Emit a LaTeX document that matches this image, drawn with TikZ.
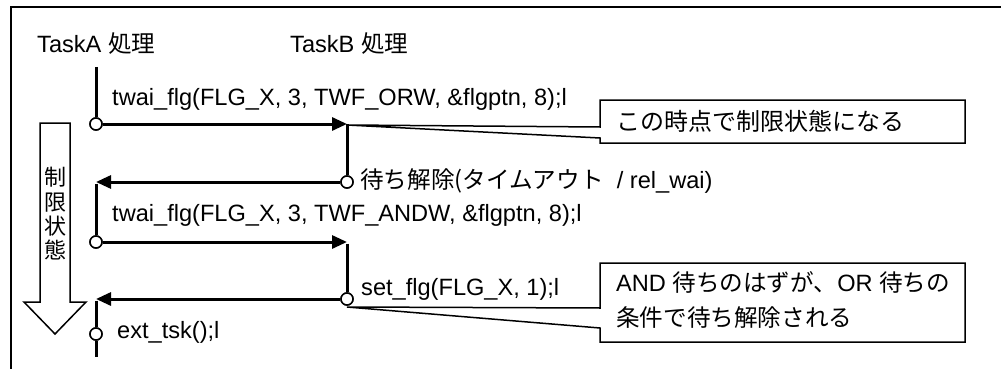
\documentclass[tikz,border=0pt]{standalone}
\usepackage{fontspec}
\setmainfont{Liberation Sans}
\newfontfamily\cjk{Noto Sans CJK JP}
\usetikzlibrary{arrows.meta}
\begin{document}
\begin{tikzpicture}[x=1pt,y=-1pt,
  every node/.style={font=\fontsize{23.6}{27}\selectfont, inner sep=0pt},
  life/.style={line width=3pt},
  msg/.style={line width=3pt, -{Triangle[length=15pt,width=13pt]}},
  dot/.style={circle, draw, fill=white, line width=1.5pt, minimum size=12pt, inner sep=0pt},
  thin/.style={line width=1.5pt},
  lbl/.style={anchor=west}]
\useasboundingbox (0,0) rectangle (1001,369);
% frame
\draw[thin] (11,369) -- (11,7) -- (1001,7);
% headers
\node[lbl] (ha) at (37,44) {TaskA {\cjk 処理}};
\node[lbl] (hb) at (290,44) {TaskB {\cjk 処理}};
% coordinates
\coordinate (a0) at (96,67);
\node[dot] (a1) at (96,124) {};
\coordinate (b1) at (347,124);
\node[dot] (b2) at (347,182) {};
\coordinate (a2) at (96,182);
\node[dot] (a3) at (96,242) {};
\coordinate (b3) at (347,242);
\node[dot] (b4) at (347,299) {};
\coordinate (a4) at (96,299);
\node[dot] (a5) at (96,334) {};
\coordinate (a6) at (96,357);
% callout 1
\draw[thin, fill=white] (600,100) -- (965,100) -- (965,143) -- (600,143) -- (600,138) -- (347,125) -- (600,127) -- cycle;
\node[lbl] (c1) at (616,121) {\fontsize{24}{27}\selectfont\cjk この時点で制限状態になる};
% callout 2
\draw[thin, fill=white] (600,263) -- (965,263) -- (965,342) -- (600,342) -- (600,328) -- (347,307) -- (600,308) -- cycle;
\node[lbl, align=left, font=\fontsize{23.6}{35}\selectfont] (c2) at (616,300) {AND {\cjk 待ちのはずが、}OR {\cjk 待ちの}\\{\cjk 条件で待ち解除される}};
% lifelines and messages
\draw[life] (a0) -- (a1);
\draw[msg] (a1) -- (b1);
\draw[life] (b1) -- (b2);
\draw[msg] (b2) -- (a2);
\draw[life] ([yshift=-1.5pt]a2) -- (a3);
\draw[msg] (a3) -- (b3);
\draw[life] ([yshift=-1.5pt]b3) -- (b4);
\draw[msg] (b4) -- (a4);
\draw[life] ([yshift=-1.5pt]a4) -- (a5);
\draw[life] (a5) -- (a6);
\node[dot] at (a1) {};
\node[dot] at (b2) {};
\node[dot] at (a3) {};
\node[dot] at (b4) {};
\node[dot] at (a5) {};
% labels
\node[lbl] (m1) at (112,99) {twai\_flg(FLG\_X, 3, TWF\_ORW, \&flgptn, 8);l};
\node[lbl] (m2) at (360,181) {{\cjk 待ち解除(タイムアウト}\ \ / rel\_wai)};
\node[lbl] (m3) at (112,215) {twai\_flg(FLG\_X, 3, TWF\_ANDW, \&flgptn, 8);l};
\node[lbl] (m4) at (361,289) {set\_flg(FLG\_X, 1);l};
\node[lbl] (m5) at (117,332) {ext\_tsk();l};
% big hollow arrow
\draw[thin, fill=white] (40,123) -- (70,123) -- (70,302) -- (86,302) -- (55,334) -- (24,302) -- (40,302) -- cycle;
\node[align=center, font=\cjk\fontsize{22}{24.3}\selectfont] (st) at (55,214) {制\\限\\状\\態};
\end{tikzpicture}
\end{document}
